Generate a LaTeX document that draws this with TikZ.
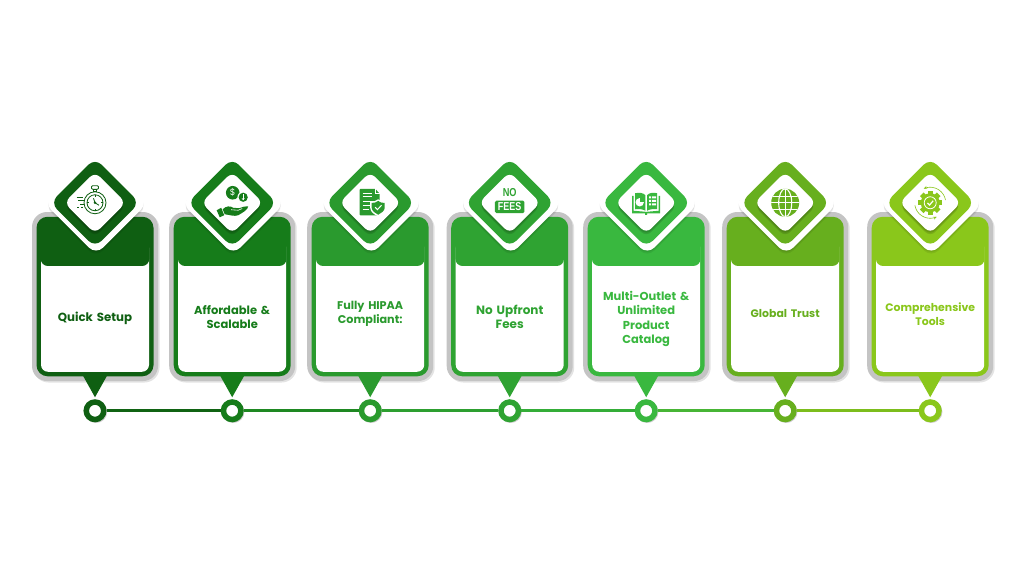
\documentclass[tikz,border=0pt]{standalone}
\usepackage{fontspec}
\setmainfont{Poppins}[BoldFont={* Bold}]
\newfontfamily\narrowfont{Liberation Sans}
\usetikzlibrary{positioning,arrows.meta,shadows,calc}

\definecolor{cardone}{HTML}{0F5F12}
\definecolor{cardtwo}{HTML}{167C1A}
\definecolor{cardthree}{HTML}{2A9A2E}
\definecolor{cardfour}{HTML}{2FA332}
\definecolor{cardfive}{HTML}{39B83F}
\definecolor{cardsix}{HTML}{67AF1E}
\definecolor{cardseven}{HTML}{8AC71B}

% one step of the row: name, placement of the halo, colour, label shift, label size, label
\newcommand{\stepcard}[6]{
  \node[halo,#2] (halo#1) {};
  \node[cardbody,fill=#3] (card#1) at (halo#1) {};
  \node[panel,anchor=south] (panel#1) at ([yshift=4.5pt]card#1.south) {};
  \node[headbar,fill=#3,anchor=south] (head#1) at ([yshift=110.3pt]card#1.south) {};
  \fill[#3] ([xshift=-12pt,yshift=.5pt]card#1.south) -- ([xshift=12pt,yshift=.5pt]card#1.south)
    -- ([yshift=-21pt]card#1.south) -- cycle;
  \node[outerdia] (rim#1) at ([xshift=1pt,yshift=13.7pt]card#1.north) {};
  \node[middia,fill=#3] (dia#1) at ([yshift=14pt]card#1.north) {};
  \node[innerdia] (icon#1) at (dia#1) {};
  \node[steplabel,text=#3,font=\bfseries\fontsize{#5pt}{14.4pt}\selectfont] (label#1) at ([yshift=#4pt]card#1.center) {#6};
  \node[dotring,draw=#3,below=23pt of card#1] (dot#1) {};
}

\begin{document}
\begin{tikzpicture}[
  x=1pt, y=-1pt,
  halo/.style={rectangle, rounded corners=15pt, minimum width=126pt, minimum height=169pt,
               inner sep=0pt, outer sep=0pt, fill=black!23,
               general shadow={fill=black!11, shadow xshift=1.5pt, shadow yshift=-1.5pt}},
  cardbody/.style={rectangle, rounded corners=11pt, minimum width=117pt, minimum height=159.5pt,
               inner sep=0pt, outer sep=0pt},
  panel/.style={rectangle, rounded corners=7pt, fill=white, minimum width=108pt, minimum height=131pt,
               inner sep=0pt, outer sep=0pt},
  headbar/.style={rectangle, rounded corners=7pt, minimum width=108.5pt, minimum height=41pt,
               inner sep=0pt, outer sep=0pt},
  outerdia/.style={rectangle, rotate=45, rounded corners=10pt, fill=white, minimum size=73pt,
               inner sep=0pt, outer sep=0pt,
               general shadow={fill=black, opacity=.07, shadow yshift=-3pt},
               general shadow={fill=black, opacity=.07, shadow yshift=-1.5pt}},
  middia/.style={rectangle, rotate=45, rounded corners=9pt, minimum size=63pt,
               inner sep=0pt, outer sep=0pt},
  innerdia/.style={rectangle, rotate=45, rounded corners=7pt, fill=white, minimum size=43.5pt,
               inner sep=0pt, outer sep=0pt,
               general shadow={fill=black, opacity=.12, shadow yshift=-3.5pt},
               general shadow={fill=black, opacity=.12, shadow yshift=-2pt}},
  steplabel/.style={align=center, inner sep=0pt, text width=104pt},
  dotring/.style={circle, fill=white, line width=5.5pt, minimum size=17.5pt, inner sep=0pt,
               general shadow={fill=black, opacity=.2, shadow scale=1.28, shadow xshift=.8pt, shadow yshift=-.8pt}},
  trackline/.style={line width=3pt}
]
\useasboundingbox (0,0) rectangle (1024,576);

\stepcard{1}{at={(95,296.5)}}{cardone}{-21.4}{11.8}{Quick Setup}
\stepcard{2}{right=11.2pt of halo1}{cardtwo}{-20.4}{11.5}{Affordable \&\\Scalable}
\stepcard{3}{right=12pt of halo2}{cardthree}{-17.4}{11.2}{Fully HIPAA\\Compliant:}
\stepcard{4}{right=13.5pt of halo3}{cardfour}{-20.4}{12}{No Upfront\\Fees}
\stepcard{5}{right=10.5pt of halo4}{cardfive}{-22.4}{11.5}{Multi-Outlet \&\\Unlimited\\Product\\Catalog}
\stepcard{6}{right=13pt of halo5}{cardsix}{-17.2}{10.9}{Global Trust}
\stepcard{7}{right=19pt of halo6}{cardseven}{-17.4}{10.9}{Comprehensive\\Tools}

\draw[trackline,draw=cardone!85!cardtwo] (dot1) -- (dot2);
\draw[trackline,draw=cardtwo!60!cardthree] (dot2) -- (dot3);
\draw[trackline,draw=cardthree!40!cardfour] (dot3) -- (dot4);
\draw[trackline,draw=cardfour!50!cardfive] (dot4) -- (dot5);
\draw[trackline,draw=cardfive!70!cardsix] (dot5) -- (dot6);
\draw[trackline,draw=cardsix!40!cardseven] (dot6) -- (dot7);

% stopwatch
\begin{scope}[shift={(icon1.center)}, draw=cardone, line width=.8pt]
  \draw (0,0) circle (11);
  \draw (0,0) circle (8);
  \draw (-1.5,-11) rectangle (1.5,-13.5);
  \draw[rounded corners=1pt] (-3.5,-13.5) rectangle (3.5,-17);
  \draw (0,0) -- (-1.5,-4.5) (0,0) -- (4,2.5);
  \fill[cardone] (0,0) circle (1.3);
  \draw (0,-8) -- (0,-6) (0,8) -- (0,6) (-8,0) -- (-6,0) (8,0) -- (6,0);
  \draw (-18.5,-5.5) -- (-12.5,-5.5) (-17,-2) -- (-11.5,-2) (-15,1.5) -- (-11.5,1.5) (-18,5) -- (-16,5) (-14,5) -- (-12,5);
\end{scope}

% hand and coins
\begin{scope}[shift={(icon2.center)}]
  \fill[cardtwo] (.5,-10) circle (6.8);
  \node[text=white,font=\fontsize{9pt}{9pt}\selectfont,inner sep=0pt] (dollar) at (.5,-10) {\$};
  \fill[white] (11,-5.5) circle (5.8);
  \fill[cardtwo] (11,-5.5) circle (4.6);
  \draw[white,line width=.7pt,-{Stealth[length=2pt,width=3pt]}] (11,-8.5) -- (11,-2.5);
  \fill[cardtwo] (-15.5,7.5) -- (-11,5) -- (-8,12.5) -- (-12.5,14.5) -- cycle;
  \fill[cardtwo] (-9.5,6.5) .. controls (-6,3) and (-2,3) .. (1,5) -- (7,5.5)
    .. controls (10,4.5) and (13,3) .. (16,3.5) .. controls (16,7) and (10,10) .. (6,12.5)
    .. controls (2,14) and (-3,12) .. (-7.5,11.5) -- cycle;
  \draw[white,line width=.6pt] (-1,7) -- (6,7.5) -- (10,5.8);
\end{scope}

% document and shield
\begin{scope}[shift={(icon3.center)}]
  \fill[cardthree,rounded corners=1pt] (-10.7,-14) -- (5,-14) -- (9.5,-9) -- (9.5,12.7) -- (-10.7,12.7) -- cycle;
  \draw[white,line width=.8pt] (5,-14) -- (5,-9) -- (9.5,-9);
  \draw[white,line width=1pt] (-7.5,-9.5) -- (1.5,-9.5) (-7.5,-6) -- (1.5,-6) (-7.5,-1.5) -- (6,-1.5) (-7.5,2.5) -- (0,2.5) (-7.5,6.5) -- (-1,6.5);
  \fill[white] (8,-3.5) .. controls (10.5,-1.5) and (13,-1) .. (16,-1) -- (16,5) .. controls (16,9) and (12,12) .. (8,13.5)
    .. controls (4,12) and (0,9) .. (0,5) -- (0,-1) .. controls (3,-1) and (5.5,-1.5) .. (8,-3.5) -- cycle;
  \fill[cardthree] (8,-1.8) .. controls (10,-.2) and (12,.2) .. (14.5,.2) -- (14.5,5) .. controls (14.5,8) and (11,10.5) .. (8,12)
    .. controls (5,10.5) and (1.5,8) .. (1.5,5) -- (1.5,.2) .. controls (4,.2) and (6,-.2) .. (8,-1.8) -- cycle;
  \draw[white,line width=1pt] (5,4.5) -- (7.3,6.8) -- (11.3,2.5);
\end{scope}

% no fees
\begin{scope}[shift={(icon4.center)}]
  \node[text=cardfour,font=\narrowfont\bfseries\fontsize{11.5pt}{11.5pt}\selectfont,inner sep=0pt] (nomark) at (0,-10) {\scalebox{.8}[1]{NO}};
  \node[fill=cardfour,text=white,rounded corners=1.5pt,minimum width=29.5pt,minimum height=12.5pt,inner sep=0pt,
        font=\narrowfont\bfseries\fontsize{11.5pt}{11.5pt}\selectfont] (feesmark) at (0,4.2) {\scalebox{.78}[1]{FEES}};
\end{scope}

% open book
\begin{scope}[shift={(icon5.center)}]
  \fill[cardfive] (-14,-7) -- (-12.5,-7) -- (-12.5,8) -- (-1,9) -- (1,9) -- (12.5,8) -- (12.5,-7) -- (14,-7) -- (14,10.5) -- (1,10.5) -- (1,12) -- (-1,12) -- (-1,10.5) -- (-14,10.5) -- cycle;
  \fill[cardfive] (-11,-9.5) .. controls (-7,-10.5) and (-3,-10) .. (-.8,-7.5) -- (-.8,8) .. controls (-3,6.5) and (-7,6) .. (-11,6.5) -- cycle;
  \fill[cardfive] (11,-9.5) .. controls (7,-10.5) and (3,-10) .. (.8,-7.5) -- (.8,8) .. controls (3,6.5) and (7,6) .. (11,6.5) -- cycle;
  \fill[white] (-6.5,-.5) circle (4.2);
  \fill[cardfive] (-6.5,-.5) -- (-6.5,-4.7) -- (-2.3,-4.7) -- (-2.3,-.5) -- cycle;
  \fill[white] (2.8,-6.5) rectangle (4.8,-4.5) (6,-6.5) rectangle (10,-4.5)
    (2.8,-3) rectangle (4.8,-1) (6,-3) rectangle (10,-1)
    (2.8,.5) rectangle (4.8,2.5) (6,.5) rectangle (10,2.5);
\end{scope}

% globe
\begin{scope}[shift={(icon6.center)}]
  \fill[cardsix] (0,0) circle (14);
  \clip (0,0) circle (14);
  \draw[white,line width=1.1pt] (0,0) ellipse (6.5 and 14);
  \draw[white,line width=1.1pt] (0,-14) -- (0,14) (-14,0) -- (14,0) (-14,-6.5) -- (14,-6.5) (-14,6.5) -- (14,6.5);
\end{scope}

% gear with arrows
\begin{scope}[shift={(icon7.center)}]
  \fill[cardseven] (0,0) circle (9.5);
  \foreach \ang in {0,45,...,315}
    \fill[cardseven,rotate=\ang] (-2.6,-12) rectangle (2.6,-8);
  \draw[white,line width=.8pt] (0,0) circle (6);
  \draw[white,line width=1.2pt] (-2.8,.2) -- (-.7,2.3) -- (3,-2);
  \draw[cardseven,line width=.6pt,-{Stealth[length=3.5pt,width=3pt]}] plot[domain=-10:-115,samples=16,smooth] ({15.5*cos(\x)},{15.5*sin(\x)});
  \draw[cardseven,line width=.6pt,-{Stealth[length=3.5pt,width=3pt]}] plot[domain=170:65,samples=16,smooth] ({15.5*cos(\x)},{15.5*sin(\x)});
\end{scope}
\end{tikzpicture}
\end{document}
